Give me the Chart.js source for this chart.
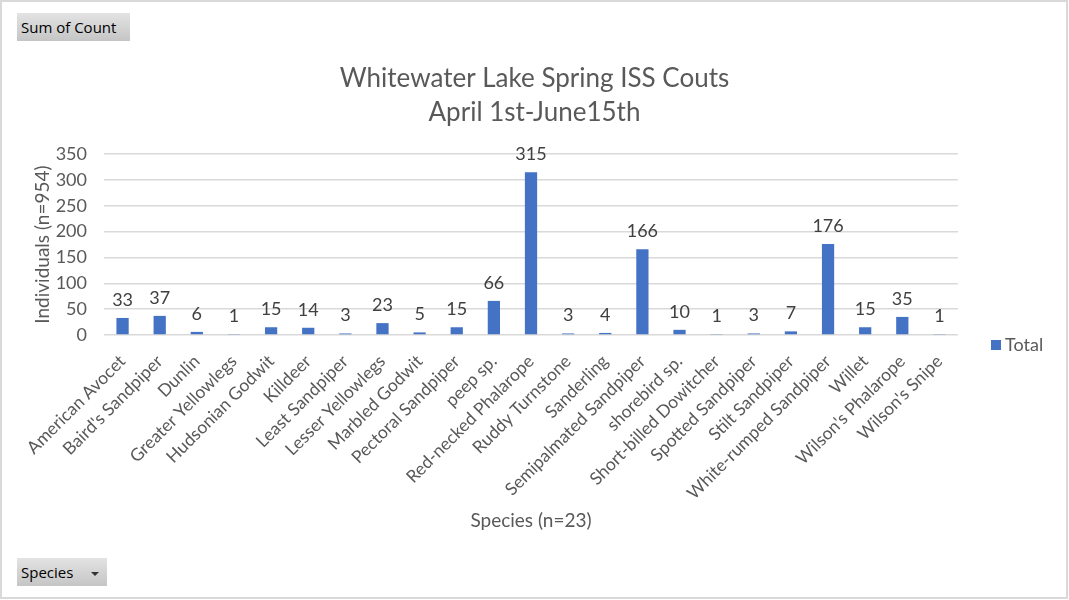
<!DOCTYPE html>
<html>
<head>
<meta charset="utf-8">
<script src="https://cdn.jsdelivr.net/npm/chart.js@4.4.1/dist/chart.umd.min.js"></script>
<style>
  html, body { margin: 0; padding: 0; background: #fff; }
  #wrap { position: relative; width: 1069px; height: 600px; overflow: hidden; }
  #frame { position: absolute; left: 0; top: 0; width: 1068px; height: 599px; box-sizing: border-box; border: 2px solid #d9d9d9; pointer-events: none; }
  canvas { position: absolute; left: 0; top: 0; }
  .btn { position: absolute; left: 17px; height: 28px; box-sizing: border-box; padding-left: 4px;
         background: linear-gradient(#e3e3e3, #c5c5c5); font: 15px "Open Sans", sans-serif; color: #000; line-height: 28px; white-space: nowrap; }
  .arrow { display: inline-block; width: 0; height: 0; margin-left: 18px; vertical-align: middle;
           border-left: 4px solid transparent; border-right: 4px solid transparent; border-top: 4px solid #333; }
</style>
</head>
<body>
<div id="wrap">
  <canvas id="canvas" width="1069" height="600"></canvas>
  <div class="btn" style="top:13px; width:113px;">Sum of Count</div>
  <div class="btn" style="top:558px; width:90px;">Species<span class="arrow"></span></div>
  <div id="frame"></div>
</div>
<script>
var titleLines = ['Whitewater Lake Spring ISS Couts', 'April 1st-June15th'];
var species = ['American Avocet', "Baird's Sandpiper", 'Dunlin', 'Greater Yellowlegs', 'Hudsonian Godwit',
  'Killdeer', 'Least Sandpiper', 'Lesser Yellowlegs', 'Marbled Godwit', 'Pectoral Sandpiper', 'peep sp.',
  'Red-necked Phalarope', 'Ruddy Turnstone', 'Sanderling', 'Semipalmated Sandpiper', 'shorebird sp.',
  'Short-billed Dowitcher', 'Spotted Sandpiper', 'Stilt Sandpiper', 'White-rumped Sandpiper', 'Willet',
  "Wilson's Phalarope", "Wilson's Snipe"];
var totals = [33, 37, 6, 1, 15, 14, 3, 23, 5, 15, 66, 315, 3, 4, 166, 10, 1, 3, 7, 176, 15, 35, 1];
var yMin = 0, yMax = 350, yStep = 50;

var textGrey = '#595959';
var barBlue = '#4472C4';

// value labels above each bar
var barLabels = {
  id: 'barLabels',
  afterDatasetsDraw: function(chart) {
    var ctx = chart.ctx;
    var meta = chart.getDatasetMeta(0);
    var vals = chart.data.datasets[0].data;
    ctx.save();
    ctx.font = '18px Lato';
    ctx.fillStyle = '#404040';
    ctx.textAlign = 'center';
    ctx.textBaseline = 'middle';
    meta.data.forEach(function(bar, i) {
      ctx.fillText(vals[i], bar.x, bar.y - 18);
    });
    ctx.restore();
  }
};

// legend sits beside the plot, level with the baseline
var sideLegend = {
  id: 'sideLegend',
  afterDraw: function(chart) {
    var ctx = chart.ctx;
    var area = chart.chartArea;
    var ds = chart.data.datasets[0];
    var x = area.right + 33, y = area.bottom + 10;
    ctx.save();
    ctx.fillStyle = ds.backgroundColor;
    ctx.fillRect(x, y - 5, 10, 10);
    ctx.fillStyle = textGrey;
    ctx.font = '18px Lato';
    ctx.textAlign = 'left';
    ctx.textBaseline = 'middle';
    ctx.fillText(ds.label, x + 14, y);
    ctx.restore();
  }
};

new Chart(document.getElementById('canvas'), {
  type: 'bar',
  data: {
    labels: species,
    datasets: [{
      label: 'Total',
      data: totals,
      backgroundColor: barBlue,
      barPercentage: 0.33,
      categoryPercentage: 1
    }]
  },
  options: {
    responsive: false,
    animation: false,
    layout: { padding: 0 },
    plugins: {
      legend: { display: false },
      tooltip: { enabled: false },
      title: {
        display: true,
        text: titleLines,
        color: textGrey,
        font: { family: 'Lato', size: 26, weight: 'normal', lineHeight: 1.31 },
        padding: { top: 62, bottom: 24 }
      }
    },
    scales: {
      x: {
        grid: { display: false, drawTicks: false },
        border: { display: false },
        ticks: {
          color: textGrey, font: { family: 'Lato', size: 17.5 },
          minRotation: 45, maxRotation: 45, autoSkip: false, padding: 16
        },
        title: {
          display: true, text: 'Species (n=23)', color: textGrey,
          font: { family: 'Lato', size: 19 }, padding: { top: 10, bottom: 68 }
        },
        afterFit: function(scale) {
          scale.height = 265;
          scale.paddingLeft = 0;
          scale.paddingRight = 0;
        }
      },
      y: {
        min: yMin, max: yMax,
        ticks: { stepSize: yStep, color: textGrey, font: { family: 'Lato', size: 18 }, padding: 17 },
        grid: { color: '#d9d9d9', lineWidth: 1.5, drawTicks: false },
        border: { display: false },
        title: {
          display: true, text: 'Individuals (n=954)', color: textGrey,
          font: { family: 'Lato', size: 19 }, padding: { top: 31, bottom: 5 }
        },
        afterFit: function(scale) {
          scale.width = 104;
        }
      },
      // empty strip on the right that holds the legend
      side: {
        type: 'linear',
        position: 'right',
        grid: { display: false, drawTicks: false },
        border: { display: false },
        ticks: { display: false },
        afterFit: function(scale) {
          scale.width = 111;
        }
      }
    }
  },
  plugins: [barLabels, sideLegend]
});
</script>
</body>
</html>
